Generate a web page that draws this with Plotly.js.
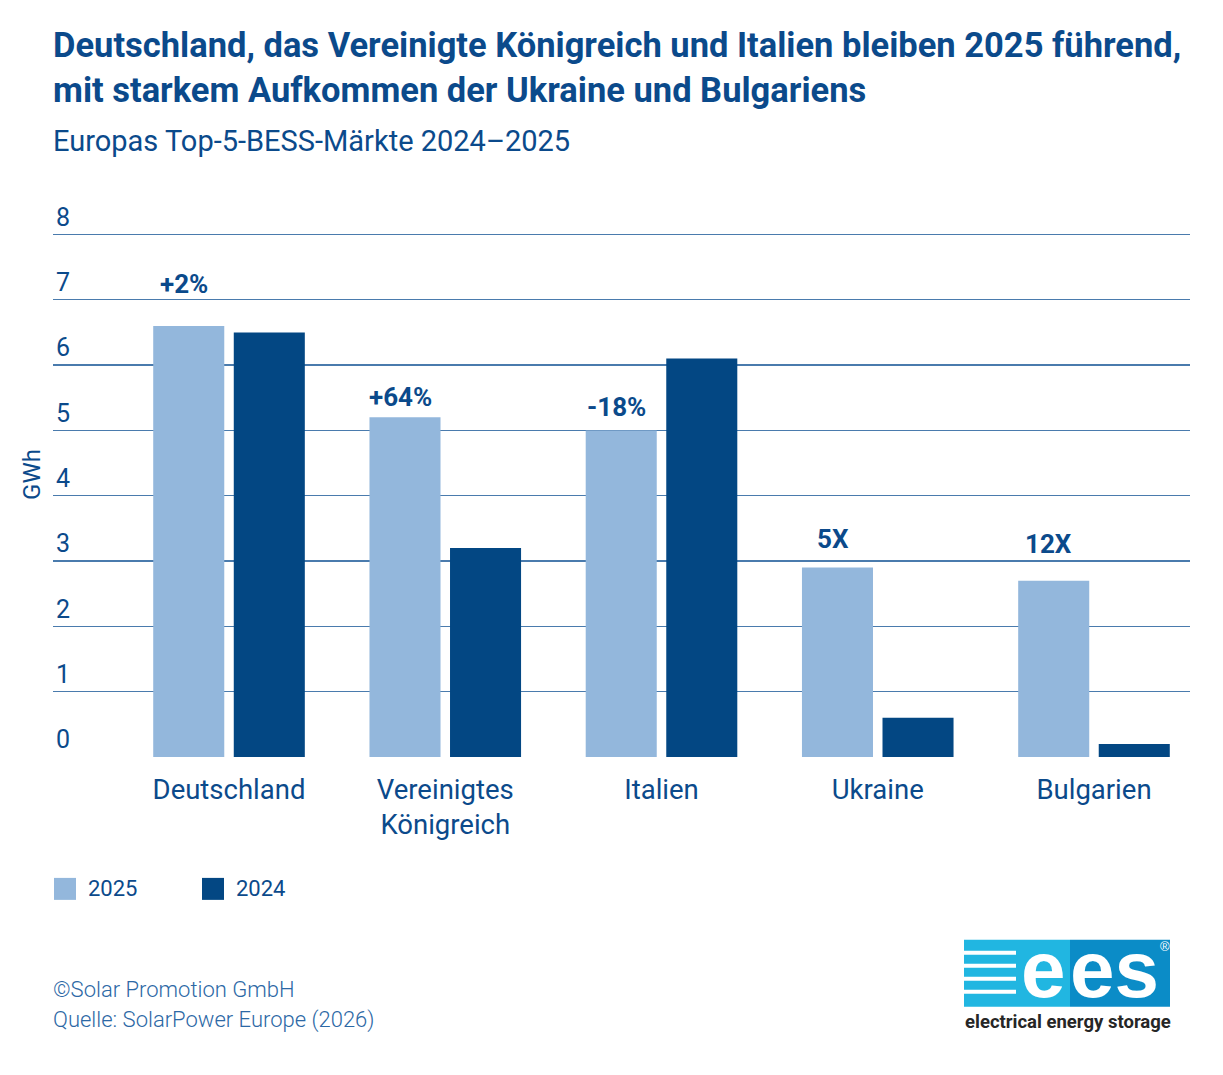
<!DOCTYPE html>
<html><head><meta charset="utf-8">
<script src="https://cdn.plot.ly/plotly-3.0.1.min.js"></script>
<style>html,body{margin:0;padding:0;background:#fff}</style>
</head><body><div id="chart" style="width:1223px;height:1075px"></div>
<script>
// ---- data ----
const categories = ["Deutschland", "Vereinigtes<br>Königreich", "Italien", "Ukraine", "Bulgarien"];
const values2025 = [6.6, 5.2, 5.0, 2.9, 2.7];
const values2024 = [6.5, 3.2, 6.1, 0.6, 0.2];
const changeLabels = ["+2%", "+64%", "-18%", "5X", "12X"];
const seriesNames = ["2025", "2024"];
const yTickValues = [0, 1, 2, 3, 4, 5, 6, 7, 8];

// ---- style ----
const colors = ["#93b7dc", "#034783"];
const textBlue = "#0b4a8b";
const font = "Roboto, 'Open Sans', sans-serif";
const labelLift = [42, 20, 23, 29, 37];   // px above 2025 bar top

// plot area in pixels (y=0 at 757, y=8 at 234; extra headroom so the "8" label shows)
const W = 1223, H = 1075;
const L = 53, R = 1190, B = 757, Y8 = 234;
const yTop = 8.65;
const T = B - (B - Y8) * yTop / 8;
const px = x => (x - L) / (R - L);
const py = y => (B - y) / (B - T);

const traces = [
  { type: "bar", name: seriesNames[0], x: categories, y: values2025,
    marker: { color: colors[0] }, showlegend: false, hoverinfo: "x+y" },
  { type: "bar", name: seriesNames[1], x: categories, y: values2024,
    marker: { color: colors[1] }, showlegend: false, hoverinfo: "x+y" }
];

const annotations = [];
categories.forEach((c, i) => {
  annotations.push({
    x: c, y: values2025[i], xref: "x", yref: "y",
    text: "<b>" + changeLabels[i] + "</b>", showarrow: false,
    xshift: -45, yshift: labelLift[i], yanchor: "middle",
    font: { family: font, size: 26, color: textBlue }
  });
});
annotations.push({
  xref: "paper", yref: "paper", x: px(51), y: py(140), xanchor: "left", yanchor: "middle",
  text: "Europas Top-5-BESS-Märkte 2024–2025", showarrow: false,
  font: { family: font, size: 29, color: textBlue }
});
// legend
const shapes = [];
const legendX = [54, 202];
seriesNames.forEach((n, i) => {
  shapes.push({ type: "rect", xref: "paper", yref: "paper",
    x0: px(legendX[i]), x1: px(legendX[i] + 22), y0: py(900), y1: py(878),
    fillcolor: colors[i], line: { width: 0 } });
  annotations.push({ xref: "paper", yref: "paper", x: px(legendX[i] + 32), y: py(889),
    xanchor: "left", yanchor: "middle", text: n, showarrow: false,
    font: { family: font, size: 22, color: textBlue } });
});
// footer
annotations.push({ xref: "paper", yref: "paper", x: px(51), y: py(990), xanchor: "left", yanchor: "middle",
  text: "©Solar Promotion GmbH", showarrow: false,
  font: { family: font, size: 22, weight: 300, color: "#2c68a5" } });
annotations.push({ xref: "paper", yref: "paper", x: px(51), y: py(1020), xanchor: "left", yanchor: "middle",
  text: "Quelle: SolarPower Europe (2026)", showarrow: false,
  font: { family: font, size: 22, weight: 300, color: "#2c68a5" } });
// logo
shapes.push({ type: "rect", xref: "paper", yref: "paper", x0: px(964), x1: px(1070), y0: py(1007), y1: py(940),
  fillcolor: "#21b6e1", line: { width: 0 } });
shapes.push({ type: "rect", xref: "paper", yref: "paper", x0: px(1070), x1: px(1170), y0: py(1007), y1: py(940),
  fillcolor: "#0b8cc7", line: { width: 0 } });
[951, 964, 977, 990].forEach(s => {
  shapes.push({ type: "rect", xref: "paper", yref: "paper", x0: px(964), x1: px(1016), y0: py(s + 4), y1: py(s),
    fillcolor: "#ffffff", line: { width: 0 } });
});
annotations.push({ xref: "paper", yref: "paper", x: px(1043), y: py(970), xanchor: "center", yanchor: "middle",
  text: "<b>e</b>", showarrow: false, font: { family: "Liberation Sans, Arial, sans-serif", size: 80, color: "#ffffff" } });
annotations.push({ xref: "paper", yref: "paper", x: px(1114), y: py(970), xanchor: "center", yanchor: "middle",
  text: "<b>es</b>", showarrow: false, font: { family: "Liberation Sans, Arial, sans-serif", size: 80, color: "#ffffff" } });
annotations.push({ xref: "paper", yref: "paper", x: px(1165), y: py(947), xanchor: "center", yanchor: "middle",
  text: "®", showarrow: false, font: { family: "Liberation Sans, Arial, sans-serif", size: 13, color: "#ffffff" } });
annotations.push({ xref: "paper", yref: "paper", x: px(1068), y: py(1022), xanchor: "center", yanchor: "middle",
  text: "<b>electrical energy storage</b>", showarrow: false,
  font: { family: font, size: 18.5, color: "#262626" } });

const layout = {
  width: W, height: H,
  margin: { l: L, r: W - R, t: T, b: H - B, pad: 0 },
  paper_bgcolor: "#ffffff", plot_bgcolor: "#ffffff",
  title: {
    text: "<b>Deutschland, das Vereinigte Königreich und Italien bleiben 2025 führend,<br>mit starkem Aufkommen der Ukraine und Bulgariens</b>",
    x: 53 / W, xref: "container", xanchor: "left",
    y: 1 - 57 / H, yref: "container", yanchor: "top",
    font: { family: font, size: 34.5, color: textBlue }
  },
  barmode: "group", bargap: 0.255, bargroupgap: 0.118,
  xaxis: {
    type: "category", range: [-0.814, 4.444], fixedrange: true,
    showgrid: false, zeroline: false, showline: false, ticks: "",
    tickfont: { family: font, size: 27.5, color: textBlue },
    ticklabelstandoff: 13, automargin: false
  },
  yaxis: {
    range: [0, yTop], tickvals: yTickValues, ticktext: yTickValues.map(String),
    ticklabelposition: "inside top", ticks: "",
    showgrid: true, gridcolor: "#4a7bad", gridwidth: 1.3,
    zeroline: false, showline: false, automargin: false,
    tickfont: { family: font, size: 25, color: textBlue },
    title: { text: "GWh", standoff: 8, font: { family: font, size: 24, color: textBlue } }
  },
  showlegend: false,
  annotations: annotations, shapes: shapes,
  font: { family: font, color: textBlue }
};

Plotly.newPlot("chart", traces, layout, { staticPlot: true, displayModeBar: false });
</script>
</body></html>
